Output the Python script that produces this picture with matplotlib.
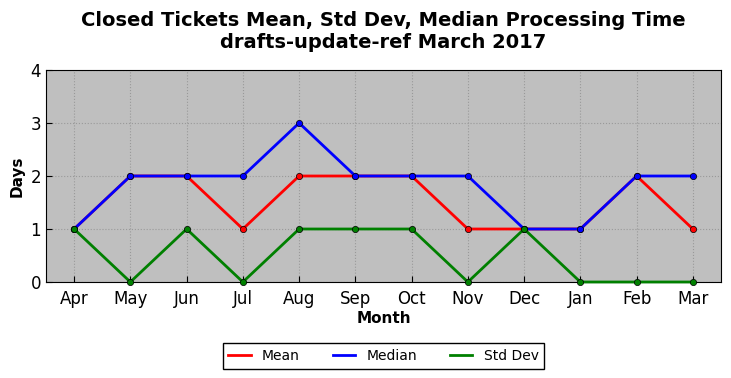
import matplotlib
matplotlib.use('Agg')
import matplotlib.pyplot as plt
from matplotlib.lines import Line2D

months = ['Apr', 'May', 'Jun', 'Jul', 'Aug', 'Sep', 'Oct', 'Nov', 'Dec', 'Jan', 'Feb', 'Mar']
mean = [1, 2, 2, 1, 2, 2, 2, 1, 1, 1, 2, 1]
median = [1, 2, 2, 2, 3, 2, 2, 2, 1, 1, 2, 2]
std_dev = [1, 0, 1, 0, 1, 1, 1, 0, 1, 0, 0, 0]

fig = plt.figure(figsize=(7.31, 3.78), dpi=100)
ax = fig.add_axes([46 / 731, 1 - 282 / 378, 675 / 731, 212 / 378])
ax.set_facecolor('#bfbfbf')

x = range(len(months))
handles = []
for vals, col, lab in [(mean, 'red', 'Mean'), (median, 'blue', 'Median'), (std_dev, 'green', 'Std Dev')]:
    ax.plot(x, vals, color=col, lw=2, marker='o', markersize=4.5,
            markeredgecolor='black', markeredgewidth=0.5, clip_on=False, zorder=3)
    handles.append(Line2D([], [], color=col, lw=2, label=lab))

ax.set_xlim(-0.5, 11.5)
ax.set_ylim(0, 4)
ax.set_xticks(list(x))
ax.set_xticklabels(months)
ax.set_yticks([0, 1, 2, 3, 4])
ax.tick_params(labelsize=12, direction='in', length=4)
ax.tick_params(axis='x', pad=6)
ax.grid(True, color='#999999', linestyle=':', linewidth=0.8)
ax.set_axisbelow(True)
ax.set_xlabel('Month', fontsize=11, fontweight='bold', labelpad=2)
ax.set_ylabel('Days', fontsize=11, fontweight='bold')
ax.set_title('Closed Tickets Mean, Std Dev, Median Processing Time\ndrafts-update-ref March 2017',
             fontsize=14, fontweight='bold', pad=16)

leg = ax.legend(handles=handles, loc='upper center', bbox_to_anchor=(0.5, -0.257), ncol=3,
                fontsize=10, fancybox=False, edgecolor='black', framealpha=1,
                handlelength=1.6, columnspacing=2.4, borderpad=0.4)
leg.get_frame().set_linewidth(1)

plt.savefig('out.png', dpi=100)
